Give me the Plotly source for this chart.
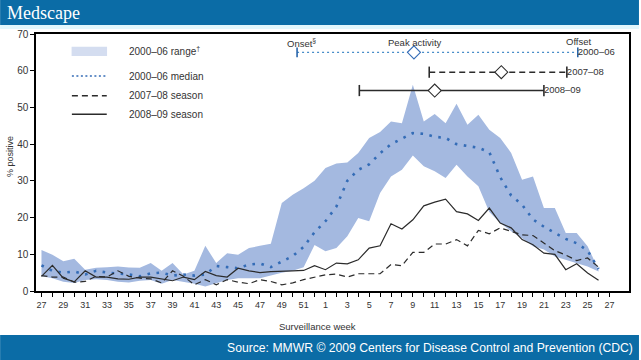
import plotly.graph_objects as go

# ---------------- data ----------------
tick_weeks = list(range(27, 53)) + list(range(1, 28))          # axis weeks 27..52, 1..27
season_pos = list(range(52))                                   # data weeks 27 .. 26 (season index)

range_low = [4.0, 3.5, 2.5, 2.2, 3.0, 3.2, 3.0, 2.5, 2.3, 2.8, 3.0, 2.0, 3.0, 2.5, 2.0, 1.2,
             2.2, 3.0, 3.5, 3.5, 3.5, 4.2, 5.0, 5.5, 6.5, 12.5, 10.8, 11.7, 14.9, 19.9, 19.0,
             26.7, 31.2, 33.0, 36.9, 34.0, 32.6, 30.8, 34.4, 31.2, 28.5, 21.5, 18.5, 16.3,
             14.4, 12.2, 11.3, 9.4, 8.5, 7.6, 6.7, 5.3]
range_high = [11.2, 9.9, 8.1, 8.8, 5.8, 6.3, 6.5, 6.7, 6.4, 6.3, 7.6, 5.5, 7.6, 4.5, 5.5, 12.3,
              7.6, 10.3, 9.9, 11.7, 12.3, 12.9, 24.0, 26.2, 28.0, 30.0, 33.5, 34.7, 35.0, 37.6,
              41.7, 43.3, 46.2, 45.7, 56.2, 46.2, 48.2, 45.7, 51.0, 45.3, 48.0, 43.9, 41.7, 37.6,
              30.3, 31.2, 22.6, 22.6, 15.8, 15.8, 12.2, 5.8]
median_0006 = [7.0, 5.5, 5.0, 5.3, 4.5, 5.5, 5.0, 4.8, 4.5, 4.0, 4.8, 5.0, 4.2, 4.5, 4.2, 4.5,
               6.8, 6.5, 6.2, 7.2, 7.5, 6.5, 8.0, 9.5, 12.0, 16.0, 19.0, 23.0, 30.0, 33.0, 34.5,
               37.5, 40.0, 41.5, 43.0, 42.8, 42.0, 41.7, 40.0, 39.5, 39.0, 37.8, 31.0, 26.0,
               23.5, 19.5, 17.5, 15.8, 14.2, 13.0, 11.0, 6.0]
season_0708 = [4.2, 3.8, 3.8, 2.4, 2.6, 4.0, 3.8, 5.5, 4.0, 3.5, 3.3, 2.2, 5.5, 4.0, 1.7, 3.1,
               1.7, 3.1, 2.4, 2.0, 3.1, 2.6, 1.7, 2.2, 3.1, 3.8, 4.4, 4.6, 3.8, 4.7, 4.7, 4.7,
               7.2, 6.9, 10.5, 10.5, 12.8, 12.8, 14.0, 12.3, 16.5, 15.6, 17.2, 16.2, 15.3, 15.1,
               13.0, 11.0, 9.8, 8.3, 9.0, 6.5]
season_0809 = [4.0, 7.0, 3.5, 2.5, 5.5, 3.8, 3.8, 3.3, 3.2, 3.8, 3.8, 3.3, 2.8, 3.8, 3.1, 5.3,
               4.2, 3.8, 6.2, 5.5, 5.0, 5.3, 5.5, 5.5, 5.6, 6.9, 5.8, 7.6, 7.4, 8.5, 11.7, 12.3,
               18.3, 16.9, 19.4, 23.2, 24.2, 25.0, 21.6, 21.0, 19.2, 22.6, 18.5, 17.2, 14.0,
               12.6, 10.3, 10.0, 5.8, 7.4, 4.9, 2.9]

bar_seasons = ["2000–06", "2007–08", "2008–09"]
bar_level = [65.0, 59.6, 54.6]
onset_pos = [23.4, 35.5, 29.1]
peak_pos = [34.1, 42.1, 36.0]
offset_pos = [49.1, 48.1, 46.0]

legend_labels = ["2000–06 range<sup>†</sup>", "2000–06 median", "2007–08 season", "2008–09 season"]

# ---------------- style ----------------
FONT = "Liberation Sans, Arial, Helvetica, sans-serif"
W, H = 641, 360
ML, MR, MT, MB = 36, 10, 34, 69
PW, PH = W - ML - MR, H - MT - MB
BAND = "rgb(164,185,224)"
BAND_LEG = "rgb(212,221,240)"
MED = "rgb(52,108,182)"
DARK = "#2b2b2b"
BRAND = "rgb(11,108,166)"


def pxx(px):
    return (px - ML) / PW


def pxy(py):
    return (H - MB - py) / PH


fig = go.Figure()

fig.add_trace(go.Scatter(x=season_pos, y=range_low, mode="lines", line=dict(width=0),
                         showlegend=False, hoverinfo="skip"))
fig.add_trace(go.Scatter(x=season_pos, y=range_high, mode="lines", line=dict(width=0),
                         fill="tonexty", fillcolor=BAND, showlegend=False, hoverinfo="skip"))
fig.add_trace(go.Scatter(x=season_pos, y=median_0006, mode="lines",
                         line=dict(color=MED, width=2.6, dash="2.6px,6.5px"), showlegend=False))
fig.add_trace(go.Scatter(x=season_pos, y=season_0708, mode="lines",
                         line=dict(color=DARK, width=1.2, dash="6px,4px"), showlegend=False))
fig.add_trace(go.Scatter(x=season_pos, y=season_0809, mode="lines",
                         line=dict(color=DARK, width=1.2), showlegend=False))

# onset / peak / offset bars
bar_colors = ["rgb(70,140,200)", DARK, DARK]
bar_dash = ["2px,3px", "6px,4px", "solid"]
tick_colors = ["rgb(40,100,170)", DARK, DARK]
for i in range(3):
    fig.add_trace(go.Scatter(x=[onset_pos[i], offset_pos[i]], y=[bar_level[i], bar_level[i]],
                             mode="lines", line=dict(color=bar_colors[i], width=1.4, dash=bar_dash[i]),
                             showlegend=False))
    fig.add_trace(go.Scatter(x=[onset_pos[i], offset_pos[i]], y=[bar_level[i], bar_level[i]],
                             mode="markers",
                             marker=dict(symbol="line-ns-open", size=8 if i else 7, color=tick_colors[i],
                                         line=dict(color=tick_colors[i], width=1.6)),
                             showlegend=False))
    fig.add_trace(go.Scatter(x=[peak_pos[i]], y=[bar_level[i]], mode="markers",
                             marker=dict(symbol="diamond", size=10, color="white",
                                         line=dict(color=MED if i == 0 else DARK, width=1.1)),
                             showlegend=False))
fig.add_trace(go.Scatter(x=offset_pos, y=bar_level, mode="text", text=bar_seasons,
                         textposition="middle right",
                         textfont=dict(family=FONT, size=9.5, color="#333"), showlegend=False))

shapes = []
annotations = []

# header / footer
shapes.append(dict(type="rect", xref="paper", yref="paper", x0=pxx(0), x1=pxx(W), y0=pxy(0), y1=pxy(25),
                   fillcolor=BRAND, line=dict(width=0), layer="above"))
shapes.append(dict(type="rect", xref="paper", yref="paper", x0=pxx(0), x1=pxx(W), y0=pxy(25), y1=pxy(29),
                   fillcolor="rgb(226,247,252)", line=dict(width=0), layer="above"))
shapes.append(dict(type="rect", xref="paper", yref="paper", x0=pxx(0), x1=pxx(W), y0=pxy(335), y1=pxy(H),
                   fillcolor=BRAND, line=dict(width=0), layer="above"))
annotations.append(dict(text="Medscape", xref="paper", yref="paper", x=pxx(5), y=pxy(13),
                        xanchor="left", yanchor="middle", showarrow=False,
                        font=dict(family="Liberation Serif, Times New Roman, serif", size=18, color="white")))
annotations.append(dict(text="Source: MMWR © 2009 Centers for Disease Control and Prevention (CDC)",
                        xref="paper", yref="paper", x=pxx(637), y=pxy(348), xanchor="right", yanchor="middle",
                        showarrow=False, font=dict(family=FONT, size=12.2, color="white")))

# custom legend
leg_y = [51.4, 76, 95.7, 114.3]
shapes.append(dict(type="rect", xref="paper", yref="paper", x0=pxx(71.7), x1=pxx(107.3),
                   y0=pxy(46.7), y1=pxy(56), fillcolor=BAND_LEG, line=dict(width=0)))
shapes.append(dict(type="line", xref="paper", yref="paper", x0=pxx(72), x1=pxx(107), y0=pxy(leg_y[1]),
                   y1=pxy(leg_y[1]), line=dict(color=MED, width=1.6, dash="2px,2.5px")))
shapes.append(dict(type="line", xref="paper", yref="paper", x0=pxx(72), x1=pxx(107), y0=pxy(leg_y[2]),
                   y1=pxy(leg_y[2]), line=dict(color=DARK, width=1.5, dash="6px,4px")))
shapes.append(dict(type="line", xref="paper", yref="paper", x0=pxx(72), x1=pxx(107), y0=pxy(leg_y[3]),
                   y1=pxy(leg_y[3]), line=dict(color=DARK, width=1.5)))
for lab, yy in zip(legend_labels, leg_y):
    annotations.append(dict(text=lab, xref="paper", yref="paper", x=pxx(127), y=pxy(yy),
                            xanchor="left", yanchor="middle", showarrow=False,
                            font=dict(family=FONT, size=10, color="#333")))

# bar header labels
annotations.append(dict(text="Onset<sup>§</sup>", xref="paper", yref="paper", x=pxx(286), y=pxy(42.5),
                        xanchor="left", yanchor="middle", showarrow=False,
                        font=dict(family=FONT, size=9.5, color="#333")))
annotations.append(dict(text="Peak activity", xref="paper", yref="paper", x=pxx(416), y=pxy(42.5),
                        xanchor="center", yanchor="middle", showarrow=False,
                        font=dict(family=FONT, size=9.5, color="#333")))
annotations.append(dict(text="Offset", xref="paper", yref="paper", x=pxx(566), y=pxy(41.5),
                        xanchor="left", yanchor="middle", showarrow=False,
                        font=dict(family=FONT, size=9.5, color="#333")))

# axis titles
annotations.append(dict(text="% positive", xref="paper", yref="paper", x=pxx(10), y=pxy(157),
                        xanchor="center", yanchor="middle", textangle=-90, showarrow=False,
                        font=dict(family=FONT, size=9, color="#333")))
annotations.append(dict(text="Surveillance week", xref="paper", yref="paper", x=pxx(318), y=pxy(326),
                        xanchor="center", yanchor="middle", showarrow=False,
                        font=dict(family=FONT, size=9.5, color="#333")))

major_idx = [i for i in range(len(tick_weeks)) if i % 2 == 0]
minor_idx = [i for i in range(len(tick_weeks)) if i % 2 == 1]

fig.update_layout(
    width=W, height=H, margin=dict(l=ML, r=MR, t=MT, b=MB),
    paper_bgcolor="white", plot_bgcolor="white",
    showlegend=False, shapes=shapes, annotations=annotations,
    font=dict(family=FONT, color="#333"),
)
fig.update_xaxes(range=[-0.502, 53.79], tickmode="array",
                 tickvals=major_idx, ticktext=[str(tick_weeks[i]) for i in major_idx],
                 ticks="outside", ticklen=4, tickwidth=1, tickcolor="black",
                 minor=dict(tickmode="array", tickvals=minor_idx, ticks="outside", ticklen=4,
                            tickwidth=1, tickcolor="black", showgrid=False),
                 showline=True, linecolor="black", linewidth=1.5, mirror=True,
                 showgrid=False, zeroline=False, tickfont=dict(size=9, color="#333"))
fig.update_yaxes(range=[0, 70], dtick=10, ticks="outside", ticklen=4, tickwidth=1, tickcolor="black",
                 showline=True, linecolor="black", linewidth=1.5, mirror=True,
                 showgrid=False, zeroline=False, tickfont=dict(size=10, color="#333"))

fig.write_html("out.html", config={"displayModeBar": False},
               post_script="document.body.style.margin='0';document.body.style.overflow='hidden';")
